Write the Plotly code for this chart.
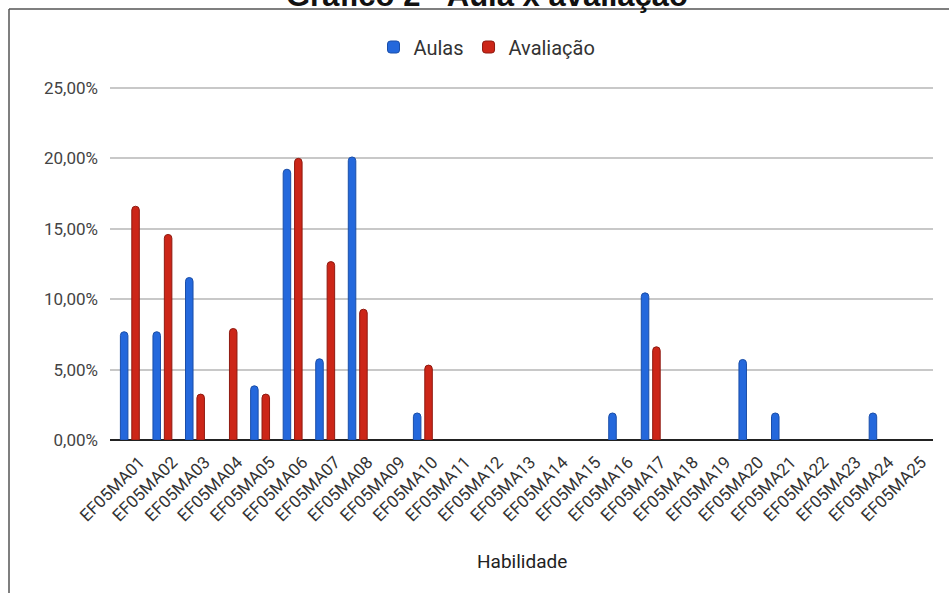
import plotly.graph_objects as go

categories = [f"EF05MA{i:02d}" for i in range(1, 26)]
aulas = [7.69, 7.69, 11.54, 0, 3.85, 19.23, 5.77, 20.1, 0, 1.92,
         0, 0, 0, 0, 0, 1.92, 10.45, 0, 0, 5.72,
         1.92, 0, 0, 1.92, 0]
avaliacao = [16.6, 14.6, 3.26, 7.92, 3.26, 20.0, 12.67, 9.29, 0, 5.32,
             0, 0, 0, 0, 0, 0, 6.62, 0, 0, 0,
             0, 0, 0, 0, 0]
y_ticks = [0, 5, 10, 15, 20, 25]
y_tick_labels = ["0,00%", "5,00%", "10,00%", "15,00%", "20,00%", "25,00%"]

W, H = 949, 593
L, R, T, B = 110, 16, 84, 153
plot_h = H - T - B


def py(ypix):
    return (H - B - ypix) / plot_h


def px(xpix):
    return (xpix - L) / (W - L - R)


def nz(v):
    return [x if x != 0 else None for x in v]


fig = go.Figure()
fig.add_trace(go.Bar(
    x=categories, y=nz(aulas), name="Aulas",
    marker=dict(color="#2468dc", line=dict(color="#1a4ea8", width=1), cornerradius=4),
))
fig.add_trace(go.Bar(
    x=categories, y=nz(avaliacao), name="Avaliação",
    marker=dict(color="#cc2618", line=dict(color="#8f1a10", width=1), cornerradius=4),
))

fig.update_layout(
    width=W, height=H,
    margin=dict(l=L, r=R, t=T, b=B, pad=0, autoexpand=False),
    paper_bgcolor="white", plot_bgcolor="white",
    barmode="group", bargap=0.30, bargroupgap=0.34,
    font=dict(family="Roboto, Arial, sans-serif", color="#333"),
    showlegend=True,
    legend=dict(orientation="h", x=px(487), xanchor="center", y=py(47), yanchor="middle",
                font=dict(size=20, color="#333"), itemwidth=30, traceorder="normal"),
    xaxis=dict(range=[-0.61, 24.67], tickangle=-45, tickfont=dict(size=17, color="#333"),
               showgrid=False, showline=False, ticks="", zeroline=False,
               ticklabelshift=10, ticklabelstandoff=8),
    yaxis=dict(range=[0, 25.28], tickvals=y_ticks, ticktext=y_tick_labels,
               tickfont=dict(size=17, color="#444"), showgrid=True, gridcolor="#c8c8c8",
               gridwidth=2, zeroline=True, zerolinecolor="#222", zerolinewidth=2,
               showline=False, ticks="", ticklabelstandoff=11),
    annotations=[
        dict(text="Habilidade", xref="paper", yref="paper", x=0.5, y=py(561),
             xanchor="center", yanchor="middle", showarrow=False,
             font=dict(size=19, color="#222")),
        dict(text="<b>Gráfico 2 - Aula x avaliação</b>", xref="paper", yref="paper",
             x=px(487), y=py(15), xanchor="center", yanchor="bottom", showarrow=False,
             font=dict(size=31, color="#111", family="Liberation Sans, Arial, sans-serif")),
    ],
    shapes=[
        dict(type="line", xref="paper", yref="paper", x0=px(9), x1=px(W), y0=py(9), y1=py(9),
             line=dict(color="#555", width=1.5)),
        dict(type="line", xref="paper", yref="paper", x0=px(9), x1=px(9), y0=py(9), y1=py(H),
             line=dict(color="#555", width=1.5)),
    ],
)

fig.write_html("out.html", config={"displayModeBar": False},
               post_script="document.body.style.margin='0';document.body.style.overflow='hidden';")
